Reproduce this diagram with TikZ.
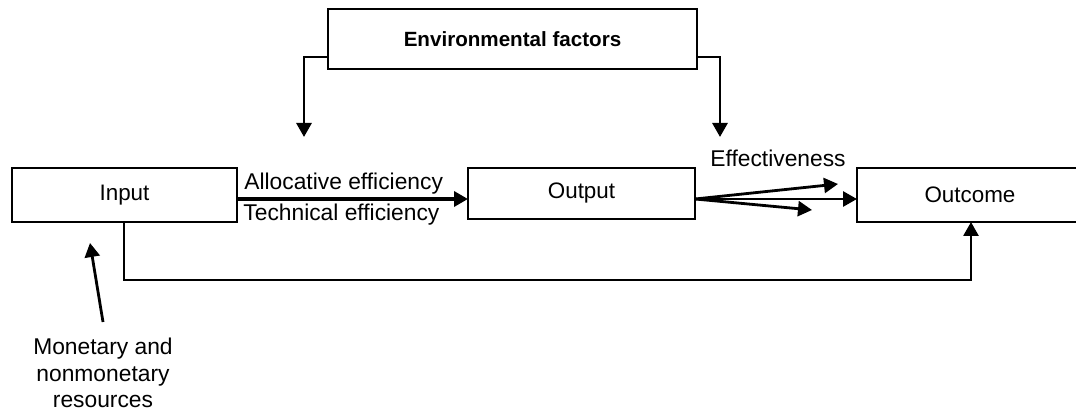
\documentclass[tikz,border=0pt]{standalone}
\usepackage{fontspec}
\setmainfont{Liberation Sans}
\usetikzlibrary{arrows.meta}
\begin{document}
\begin{tikzpicture}[x=0.5pt,y=-0.5pt,
  box/.style={draw=black,line width=1.1pt,fill=white,inner sep=0pt,font=\fontsize{11.2}{13}\selectfont},
  lbl/.style={inner sep=0pt,font=\fontsize{11.4}{13}\selectfont},
  conn/.style={line width=1.4pt,-{Triangle[length=7pt,width=7.5pt]}},
  plain/.style={line width=1.4pt}]
\useasboundingbox (0,0) rectangle (1076,411);
\fill[white] (0,0) rectangle (1076,411);
% boxes
\node[box,minimum width=184.5pt,minimum height=30pt,font=\fontsize{10.3}{12}\bfseries] (env) at (512.5,39) {Environmental factors};
\node[box,minimum width=112.5pt,minimum height=27pt] (in) at (124.5,195) {Input};
\node[box,minimum width=113.5pt,minimum height=25.5pt] (out) at (581.5,193.5) {Output};
\node[box,minimum width=113pt,minimum height=27pt] (oc) at (970,195) {Outcome};
% coordinates
\coordinate (envL) at (328,57);
\coordinate (envR) at (697,57);
\coordinate (tipL) at (304,137);
\coordinate (tipR) at (720,137);
\coordinate (inR) at (237,199);
\coordinate (outL) at (468,199);
\coordinate (outR) at (695,199);
\coordinate (ocL) at (857,199);
\coordinate (effU) at (838,184);
\coordinate (effD) at (812,210);
\coordinate (inB) at (124,222);
\coordinate (ocB) at (971,222);
\coordinate (resTail) at (103,322);
\coordinate (resTip) at (90,243);
% env arrows
\draw[conn] (envL) -| (tipL);
\draw[conn] (envR) -| (tipR);
% main flow
\draw[conn,line width=1.7pt] (inR) -- (outL);
\draw[conn] (outR) -- (effU);
\draw[conn] (outR) -- (ocL);
\draw[conn] (outR) -- (effD);
\draw[conn] (inB) |- (ocB |- 0,280) -- (ocB);
\draw[conn] (resTail) -- (resTip);
% labels
\node[lbl,anchor=west] (alloc) at (244,184) {Allocative efficiency};
\node[lbl,anchor=west] (tech) at (243,215) {Technical efficiency};
\node[lbl] (eff) at (778,158) {Effectiveness};
\node[lbl,align=center,font=\fontsize{11.4}{13.25}\selectfont] (res) at (103,373) {Monetary and\\nonmonetary\\resources};
\end{tikzpicture}
\end{document}
